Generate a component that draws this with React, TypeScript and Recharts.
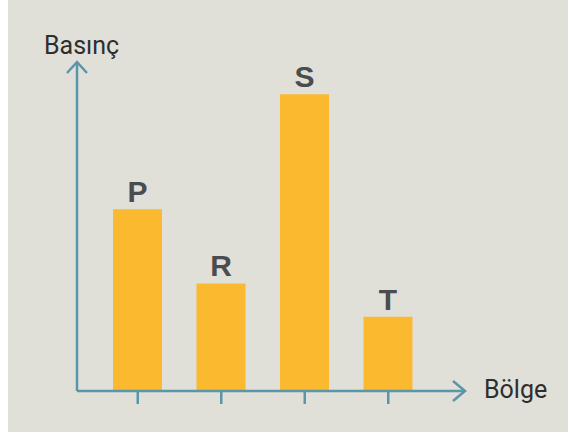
import React from "react";
import { BarChart, Bar, XAxis, YAxis, LabelList } from "recharts";

const regions = ["P", "R", "S", "T"];
const pressure = [49, 29, 80, 20];

const axisColor = "#5a96a9";
const barColor = "#fbb930";

const data = regions.map((name, i) => ({ name, pressure: pressure[i] }));

const YLabel = (props: any) => {
  const { x, y, width } = props.viewBox;
  const ax = x + width;
  return (
    <g>
      <polyline
        points={`${ax - 10},${y + 11} ${ax},${y} ${ax + 10},${y + 11}`}
        fill="none"
        stroke={axisColor}
        strokeWidth={2.5}
      />
      <text x={ax - 33} y={y - 8} fontFamily="Roboto" fontSize={25} fill="#2e2e2e">
        Basınç
      </text>
    </g>
  );
};

const XLabel = (props: any) => {
  const { x, y, width } = props.viewBox;
  const end = x + width;
  return (
    <g>
      <polyline
        points={`${end - 12},${y - 10} ${end},${y} ${end - 12},${y + 10}`}
        fill="none"
        stroke={axisColor}
        strokeWidth={2.5}
      />
      <text x={end + 19} y={y + 7} fontFamily="Roboto" fontSize={25} fill="#2e2e2e">
        Bölge
      </text>
    </g>
  );
};

export default function App() {
  return (
    <div style={{ position: "absolute", left: 0, top: 0, width: 568, height: 432, background: "#fff" }}>
      <div
        style={{ position: "absolute", left: 8, top: 0, width: 560, height: 432, background: "#e0dfd8" }}
      />
      <div style={{ position: "absolute", left: 0, top: 0 }}>
        <BarChart
          width={568}
          height={432}
          data={data}
          margin={{ top: 62, right: 103, left: 76, bottom: 0 }}
        >
          <XAxis
            dataKey="name"
            padding={{ left: 19, right: 35 }}
            axisLine={{ stroke: axisColor, strokeWidth: 2.7 }}
            tickLine={{ stroke: axisColor, strokeWidth: 2.5 }}
            tickSize={13}
            tick={() => <g />}
            height={41}
            label={(p: any) => <XLabel {...p} />}
          />
          <YAxis
            width={1}
            domain={[0, 88.7]}
            tick={false}
            tickLine={false}
            axisLine={{ stroke: axisColor, strokeWidth: 2.5 }}
            label={(p: any) => <YLabel {...p} />}
          />
          <Bar dataKey="pressure" fill={barColor} barSize={49} isAnimationActive={false}>
            <LabelList
              dataKey="name"
              position="top"
              offset={7}
              fill="#4a4c50"
              fontSize={30}
              fontWeight="bold"
              fontFamily="Liberation Sans"
            />
          </Bar>
        </BarChart>
      </div>
    </div>
  );
}
